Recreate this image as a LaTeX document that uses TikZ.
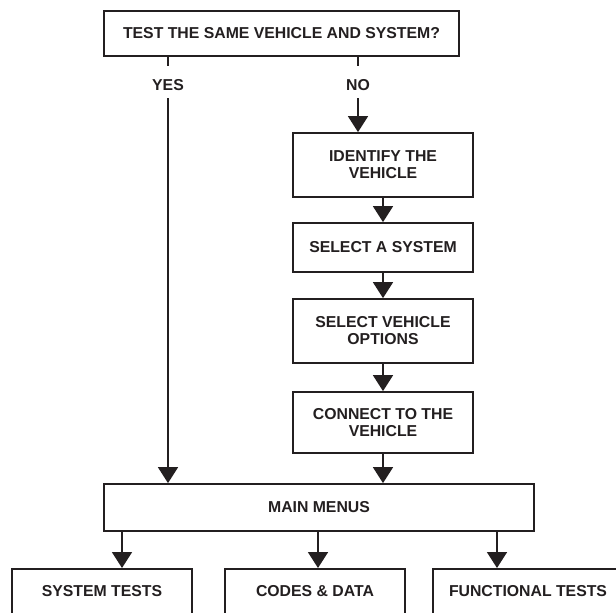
\documentclass[tikz,border=0pt]{standalone}
\usepackage{fontspec}
\setmainfont{Liberation Sans}
\usetikzlibrary{arrows.meta,calc}
\definecolor{ink}{HTML}{231F20}
\tikzset{
  box/.style={draw=ink, line width=1.8pt, text=ink, inner sep=0pt, align=center,
    font=\fontsize{15.8}{17}\selectfont\bfseries},
  lbl/.style={text=ink, inner sep=0pt, font=\fontsize{15.8}{17}\selectfont\bfseries},
  conn/.style={draw=ink, line width=1.8pt},
  arr/.style={conn, -{Triangle[width=20pt,length=16pt]}},
  openbox/.style={box, anchor=north, text height=11pt, text depth=45pt, inner ysep=16.5pt}
}
\begin{document}
\begin{tikzpicture}[x=1pt,y=-1pt]
\useasboundingbox (0,0) rectangle (616,613);
\clip (0,0) rectangle (616,613);
\fill[white] (0,0) rectangle (616,613);

\node[box, minimum width=355pt, minimum height=45pt] (q) at (281.5,33.5) {TEST THE SAME VEHICLE AND SYSTEM?};
\node[lbl] (yes) at (168,85) {YES};
\node[lbl] (no) at (358,85) {NO};

\node[box, minimum width=180pt, minimum height=64pt] (id) at (383,165) {IDENTIFY THE\\VEHICLE};
\node[box, minimum width=180pt, minimum height=49pt] (sys) at (383,247.5) {SELECT A SYSTEM};
\node[box, minimum width=180pt, minimum height=64pt] (opt) at (383,331) {SELECT VEHICLE\\OPTIONS};
\node[box, minimum width=180pt, minimum height=61pt] (con) at (383,422.5) {CONNECT TO THE\\VEHICLE};
\node[box, minimum width=430pt, minimum height=47pt] (main) at (319,507.5) {MAIN MENUS};

\node[openbox, minimum width=180pt] (st) at (102,568) {SYSTEM TESTS};
\node[openbox, minimum width=180pt] (cd) at (315,568) {CODES \& DATA};
\node[openbox, minimum width=190pt] (ft) at (528,568) {FUNCTIONAL TESTS};

% YES / NO branches
\draw[conn] (q.south -| yes) -- ([yshift=13pt]yes.north);
\draw[arr] ([yshift=-7.5pt]yes.south) -- (main.north -| yes);
\draw[conn] (q.south -| no) -- ([yshift=13pt]no.north);
\draw[arr] ([yshift=-7.5pt]no.south) -- (id.north -| no);

% chain
\draw[arr] (id.south) -- (sys.north);
\draw[arr] (sys.south) -- (opt.north);
\draw[arr] (opt.south) -- (con.north);
\draw[arr] (con.south) -- (main.north -| con.south);

% menus
\path ([xshift=20pt]st.north) coordinate (a1)
      ([xshift=3pt]cd.north) coordinate (a2)
      ([xshift=-31pt]ft.north) coordinate (a3);
\draw[arr] (main.south -| a1) -- (a1);
\draw[arr] (main.south -| a2) -- (a2);
\draw[arr] (main.south -| a3) -- (a3);
\end{tikzpicture}
\end{document}
